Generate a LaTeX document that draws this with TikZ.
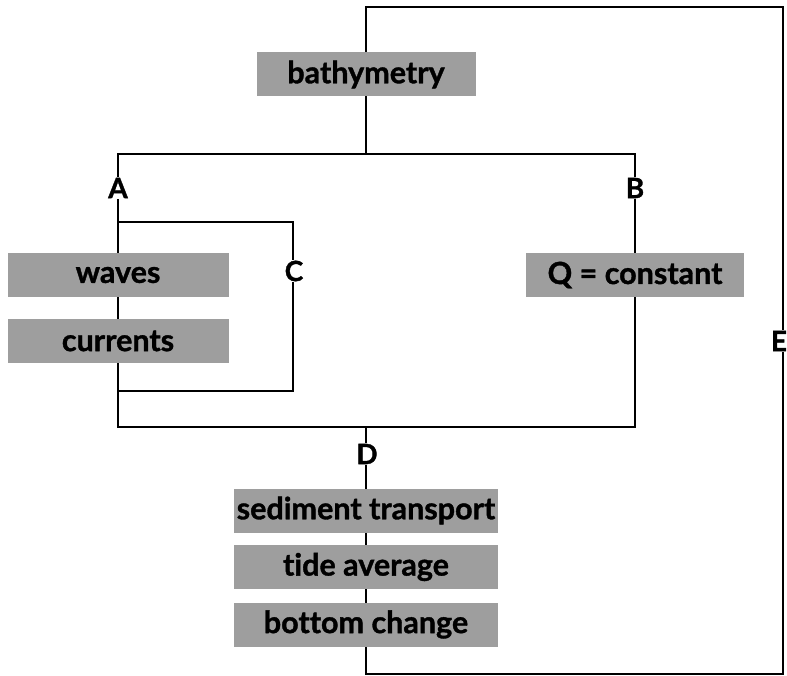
\documentclass[tikz,border=0pt]{standalone}
\usepackage{fontspec}
\setmainfont{Lato}[Ligatures=NoCommon, BoldFeatures={FakeBold=1.2}]
\usetikzlibrary{backgrounds}
\definecolor{boxgrey}{RGB}{158,158,158}
\tikzset{
  x={(1pt,0)}, y={(0,-1pt)},
  wire/.style={draw=black, line width=1.8pt},
  stage/.style={fill=boxgrey, draw=none, inner sep=0pt, minimum height=44pt,
    font=\fontsize{30.5}{32}\selectfont\bfseries},
  tag/.style={fill=white, inner sep=0.5pt, font=\fontsize{28}{30}\selectfont\bfseries}
}
\begin{document}
\begin{tikzpicture}
\useasboundingbox (0,0) rectangle (787,676);

% processing stages
\node[stage, minimum width=219pt] (bathy) at (366,74.5) {bathymetry};
\node[stage, minimum width=221pt] (waves) at (118,275) {waves};
\node[stage, minimum width=221pt] (curr) at (118,341) {currents};
\node[stage, minimum width=218pt] (qconst) at (635,275) {Q = constant};
\node[stage, minimum width=264pt] (sed) at (366,510.5) {sediment transport};
\node[stage, minimum width=264pt] (tide) at (366,567) {tide average};
\node[stage, minimum width=264pt] (bottom) at (366,624.5) {bottom change};

% loop labels
\node[tag] (A) at (118,188) {A};
\node[tag] (B) at (635,188) {B};
\node[tag] (C) at (294,271) {C};
\node[tag] (D) at (367,454) {D};
\node[tag] (E) at (779,341) {E};

% corner points of the loops
\coordinate (t1) at (366,7);
\coordinate (t2) at (783,7);
\coordinate (b2) at (783,674);
\coordinate (b1) at (366,674);
\coordinate (j1) at (366,154);
\coordinate (j2) at (366,427);
\coordinate (o1) at (118,154);
\coordinate (o2) at (635,154);
\coordinate (o3) at (635,427);
\coordinate (o4) at (118,427);
\coordinate (i1) at (118,222);
\coordinate (i2) at (293,222);
\coordinate (i3) at (293,391);
\coordinate (i4) at (118,391);

\begin{scope}[on background layer]
  % outer loop E through the bathymetry and the bottom stages
  \draw[wire] (j1) -- (bathy.center) -- (t1) -- (t2) -- (b2) -- (b1)
    -- (bottom.center) -- (tide.center) -- (sed.center) -- (j2);
  % branches A and B joined at D
  \draw[wire] (o1) -- (o2) -- (B.center) -- (qconst.center) -- (o3) -- (o4)
    -- (curr.center) -- (waves.center) -- (A.center) -- cycle;
  % inner loop C
  \draw[wire] (i1) -- (i2) -- (i3) -- (i4);
\end{scope}
\end{tikzpicture}
\end{document}
